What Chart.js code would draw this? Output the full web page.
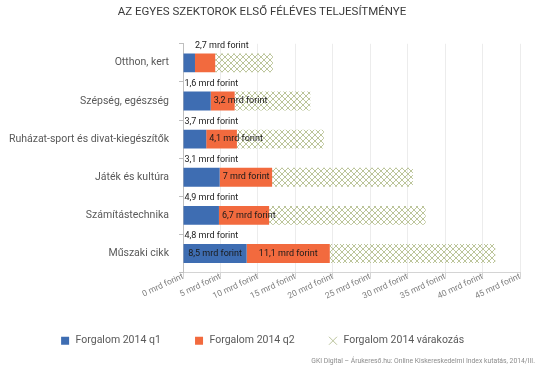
<!DOCTYPE html>
<html lang="hu">
<head>
<meta charset="UTF-8">
<title>Az egyes szektorok első féléves teljesítménye</title>
<script src="https://cdn.jsdelivr.net/npm/chart.js"></script>
<style>
    html, body { margin: 0; padding: 0; background: #fff; }
    #wrap { width: 540px; height: 371px; position: relative; }
</style>
</head>
<body>
<div id="wrap"><canvas id="chart"></canvas></div>
<script>
const categories = ["Otthon, kert", "Szépség, egészség", "Ruházat-sport és divat-kiegészítők", "Játék és kultúra", "Számítástechnika", "Műszaki cikk"];
const q1 = [1.6, 3.7, 3.1, 4.9, 4.8, 8.5];
const q2 = [2.7, 3.2, 4.1, 7, 6.7, 11.1];
const expected = [7.7, 10.1, 11.6, 18.8, 20.9, 22.1];
const seriesNames = ["Forgalom 2014 q1", "Forgalom 2014 q2", "Forgalom 2014 várakozás"];
const xMin = 0, xMax = 45, xStep = 5;
const titleText = "AZ EGYES SZEKTOROK ELSŐ FÉLÉVES TELJESÍTMÉNYE";
const sourceText = "GKI Digital – Árukereső.hu: Online Kiskereskedelmi Index kutatás, 2014/III.";

// where each value label sits relative to its segment
const q1LabelPos = ["below", "below", "below", "below", "below", "center"];
const q2LabelPos = ["above", "center", "center", "center", "center", "center"];

const FONT = "Roboto, 'DejaVu Sans Condensed', sans-serif";
Chart.defaults.font.family = FONT;

const fmt = v => String(v).replace(".", ",") + " mrd forint";

function hatch() {
    const c = document.createElement("canvas");
    c.width = 6; c.height = 6;
    const g = c.getContext("2d");
    g.strokeStyle = "#bcc59a";
    g.lineWidth = 1;
    g.beginPath();
    g.moveTo(0, 0); g.lineTo(6, 6);
    g.moveTo(6, 0); g.lineTo(0, 6);
    g.stroke();
    return g.createPattern(c, "repeat");
}

const segmentLabels = {
    id: "segmentLabels",
    afterDatasetsDraw(chart) {
        const ctx = chart.ctx;
        ctx.save();
        ctx.font = "9px " + FONT;
        ctx.fillStyle = "#1a1a1a";
        ctx.textBaseline = "middle";
        ctx.textAlign = "left";
        [[0, q1LabelPos], [1, q2LabelPos]].forEach(([di, pos]) => {
            chart.getDatasetMeta(di).data.forEach((bar, i) => {
                const p = bar.getProps(["x", "y", "base", "height"], true);
                const text = fmt(chart.data.datasets[di].data[i]);
                const w = ctx.measureText(text).width;
                let x, y;
                if (pos[i] === "below") {
                    x = p.base + 1; y = p.y + p.height / 2 + 11;
                } else if (pos[i] === "above") {
                    x = p.base; y = p.y - p.height / 2 - 8;
                } else {
                    x = Math.max(p.base + 3, (p.base + p.x) / 2 - w / 2); y = p.y;
                }
                ctx.fillText(text, x, y);
            });
        });
        ctx.restore();
    }
};

const sourceNote = {
    id: "sourceNote",
    afterDraw(chart) {
        const ctx = chart.ctx;
        ctx.save();
        ctx.font = "6.8px " + FONT;
        ctx.fillStyle = "#8c8c8c";
        ctx.textAlign = "right";
        ctx.textBaseline = "middle";
        ctx.fillText(sourceText, 535, 361);
        ctx.restore();
    }
};

new Chart(document.getElementById("chart"), {
    type: "bar",
    data: {
        labels: categories,
        datasets: [
            { label: seriesNames[0], data: q1, backgroundColor: "#3e6db2", barPercentage: 0.9, categoryPercentage: 0.55 },
            { label: seriesNames[1], data: q2, backgroundColor: "#f26a3e", barPercentage: 0.9, categoryPercentage: 0.55 },
            { label: seriesNames[2], data: expected, backgroundColor: hatch(), barPercentage: 0.9, categoryPercentage: 0.55 }
        ]
    },
    options: {
        indexAxis: "y",
        responsive: true,
        maintainAspectRatio: false,
        animation: false,
        layout: { padding: { left: 4, right: 20, top: 0, bottom: 15 } },
        scales: {
            x: {
                stacked: true,
                min: xMin,
                max: xMax,
                afterFit(scale) { scale.height = 30; },
                ticks: {
                    stepSize: xStep,
                    autoSkip: false,
                    minRotation: 25,
                    maxRotation: 25,
                    padding: -6,
                    color: "#7f7f7f",
                    font: { size: 8.5 },
                    callback: v => v + " mrd forint"
                },
                grid: { color: "#ececec", tickColor: "#d4d4d4", tickLength: 5 },
                border: { color: "#d4d4d4" }
            },
            y: {
                stacked: true,
                afterFit(scale) { scale.width = 179; },
                ticks: { color: "#595959", font: { size: 10.5 }, padding: 10 },
                grid: { drawOnChartArea: false, color: "#bfbfbf", tickLength: 4 },
                border: { color: "#bfbfbf" }
            }
        },
        plugins: {
            title: {
                display: true,
                text: titleText,
                color: "#3a3a3a",
                font: { size: 11.5, weight: "normal" },
                padding: { top: 5, bottom: 25 }
            },
            legend: {
                position: "bottom",
                labels: {
                    usePointStyle: true,
                    boxHeight: 8,
                    padding: 33,
                    color: "#595959",
                    font: { size: 10.5 },
                    generateLabels(chart) {
                        return chart.data.datasets.map((ds, i) => ({
                            text: ds.label,
                            datasetIndex: i,
                            fillStyle: i < 2 ? ds.backgroundColor : "rgba(0,0,0,0)",
                            strokeStyle: i < 2 ? ds.backgroundColor : "#b9c29a",
                            lineWidth: i < 2 ? 0 : 1,
                            pointStyle: i < 2 ? "rect" : "crossRot",
                            fontColor: "#595959",
                            hidden: false
                        }));
                    }
                }
            },
            tooltip: { enabled: false }
        }
    },
    plugins: [segmentLabels, sourceNote]
});
</script>
</body>
</html>
